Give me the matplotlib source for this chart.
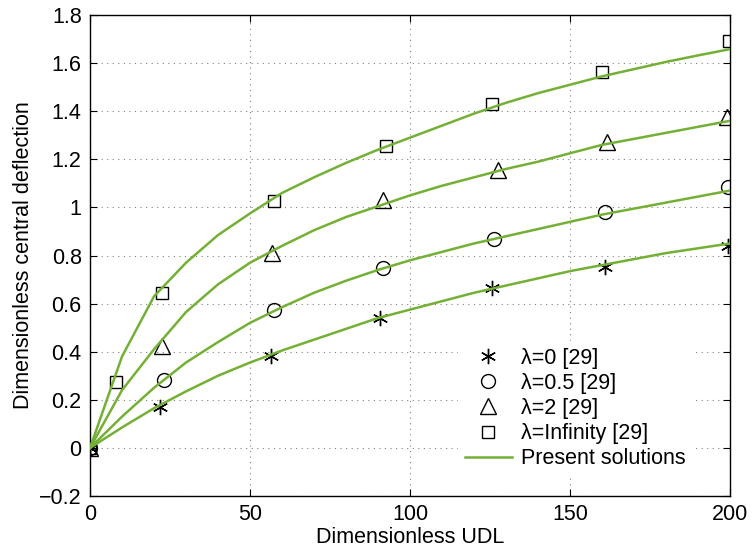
import numpy as np
import matplotlib.pyplot as plt
from matplotlib.lines import Line2D

plt.rcParams['font.family'] = ['Liberation Sans', 'DejaVu Sans']

# reference points [29]
x_l0 = [0, 22, 56.7, 90.7, 125.6, 160.9, 199.3]
y_l0 = [0, 0.172, 0.383, 0.542, 0.665, 0.751, 0.841]
x_l05 = [0, 23.1, 57.6, 91.7, 126.4, 160.9, 199.5]
y_l05 = [0, 0.283, 0.574, 0.747, 0.869, 0.98, 1.084]
x_l2 = [0, 22.4, 56.8, 91.5, 127.4, 161.5, 199.2]
y_l2 = [0, 0.424, 0.81, 1.03, 1.156, 1.274, 1.378]
x_inf = [0, 8.1, 22.4, 57.5, 92.4, 125.5, 160.1, 199.8]
y_inf = [0, 0.274, 0.646, 1.027, 1.257, 1.429, 1.565, 1.69]

# present solutions
udl = [0, 10, 20, 30, 40, 50, 60, 70, 80, 90, 100, 110, 120, 130, 140, 150,
       160, 170, 180, 190, 200]
sol_l0 = [0, 0.085, 0.165, 0.235, 0.3, 0.355, 0.405, 0.45, 0.495, 0.54, 0.575,
          0.61, 0.645, 0.675, 0.705, 0.735, 0.76, 0.785, 0.81, 0.83, 0.85]
sol_l05 = [0, 0.13, 0.25, 0.355, 0.44, 0.52, 0.585, 0.645, 0.695, 0.74, 0.78,
           0.815, 0.85, 0.88, 0.91, 0.94, 0.97, 0.995, 1.02, 1.045, 1.07]
sol_l2 = [0, 0.24, 0.41, 0.565, 0.68, 0.77, 0.84, 0.905, 0.96, 1.005, 1.05,
          1.09, 1.125, 1.16, 1.19, 1.225, 1.26, 1.285, 1.31, 1.335, 1.36]
sol_inf = [0, 0.38, 0.63, 0.77, 0.885, 0.975, 1.06, 1.125, 1.185, 1.24, 1.29,
           1.34, 1.39, 1.435, 1.475, 1.51, 1.545, 1.575, 1.605, 1.632, 1.658]

green = '#74B035'
fs = 15.5
star = (6, 2, 0)  # thin asterisk like MATLAB '*'

fig = plt.figure(figsize=(7.52, 5.54), dpi=100)
ax = fig.add_axes([0.1197, 0.1047, 0.8510, 0.8682])

mk = dict(linestyle='none', color='k', markerfacecolor='none', markeredgewidth=1.0, zorder=3)
ax.plot(x_l0, y_l0, marker=star, markersize=11, markeredgewidth=1.0, linestyle='none', color='k', zorder=3)
ax.plot(x_l05, y_l05, marker='o', markersize=10, **mk)
ax.plot(x_l2, y_l2, marker='^', markersize=11, **mk)
ax.plot(x_inf, y_inf, marker='s', markersize=8.5, **mk)

for s in [sol_l0, sol_l05, sol_l2, sol_inf]:
    ax.plot(udl, s, color=green, lw=1.8, zorder=4)

ax.set_xlim(0, 200)
ax.set_ylim(-0.2, 1.8)
ax.set_xticks([0, 50, 100, 150, 200])
ax.set_yticks(np.arange(-0.2, 1.81, 0.2))
ax.set_yticklabels(['\u22120.2', '0', '0.2', '0.4', '0.6', '0.8', '1', '1.2', '1.4', '1.6', '1.8'])
ax.tick_params(direction='in', length=5, width=0.8, top=True, right=True,
               labelsize=fs, pad=6)
ax.grid(True, linestyle=(0, (1, 4)), color='#808080', linewidth=0.8)
for sp in ax.spines.values():
    sp.set_linewidth(1.0)

ax.set_xlabel('Dimensionless UDL', fontsize=fs, labelpad=1)
ax.set_ylabel('Dimensionless central deflection', fontsize=fs, labelpad=4)

handles = [
    Line2D([], [], marker=star, color='k', linestyle='none', markersize=11, markeredgewidth=1.0),
    Line2D([], [], marker='o', color='k', markerfacecolor='none', linestyle='none', markersize=10),
    Line2D([], [], marker='^', color='k', markerfacecolor='none', linestyle='none', markersize=11),
    Line2D([], [], marker='s', color='k', markerfacecolor='none', linestyle='none', markersize=8.5),
    Line2D([], [], color=green, lw=1.8),
]
labels = ['\u03bb=0 [29]', '\u03bb=0.5 [29]', '\u03bb=2 [29]', '\u03bb=Infinity [29]', 'Present solutions']
leg = ax.legend(handles, labels, loc='lower right', bbox_to_anchor=(0.957, 0.02),
                fontsize=fs, frameon=True, fancybox=False, edgecolor='white',
                facecolor='white', framealpha=1, handlelength=2.2, handletextpad=0.4,
                labelspacing=0.19, borderpad=0.3)
leg.set_zorder(5)

fig.savefig('out.png', dpi=100)
